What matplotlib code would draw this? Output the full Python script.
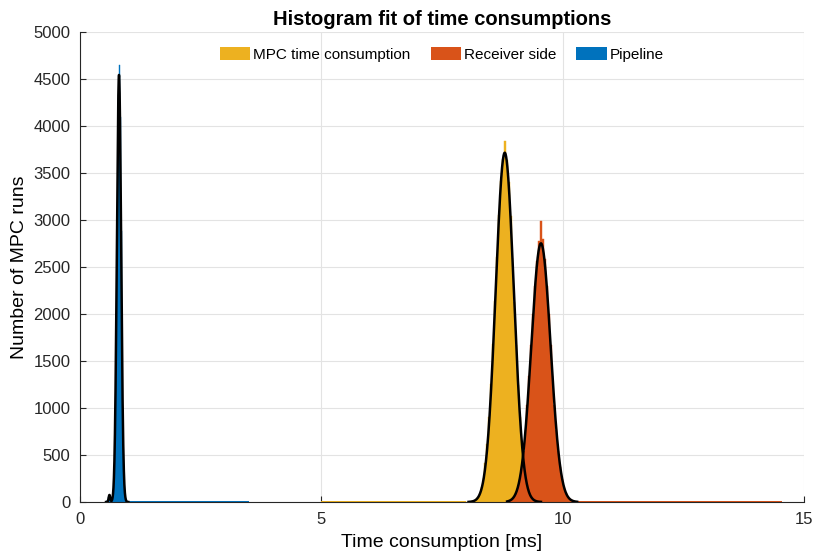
import numpy as np
import matplotlib
matplotlib.use("Agg")
import matplotlib.pyplot as plt
from matplotlib.patches import Patch

plt.rcParams['font.family'] = ['Liberation Sans', 'DejaVu Sans']

# ---- histogram data (bin centres, widths, counts) ----
# MPC time consumption
mpc_centers = [round(8.00 + 0.04 * i, 2) for i in range(36)]
mpc_counts = [1, 1, 3, 6, 14, 26, 50, 90, 155, 258, 410, 620, 905, 1260, 1680,
              2140, 2610, 3050, 3410, 3650, 3840, 3640, 3400, 3040, 2600, 2130,
              1670, 1250, 900, 615, 405, 255, 150, 88, 48, 25]
mpc_width = 0.04
mpc_tail_centers = [5.125, 5.375, 5.625, 5.875, 6.125, 6.375, 6.625, 6.875,
                    7.125, 7.375, 7.625, 7.875, 9.625, 9.875, 10.125, 10.375,
                    10.625, 10.875, 11.125, 11.375, 11.625, 11.875, 12.125, 12.375]
mpc_tail_counts = [8, 8, 8, 8, 8, 8, 9, 9, 9, 9, 10, 10,
                   10, 10, 10, 9, 9, 9, 9, 8, 8, 8, 8, 8]
mpc_tail_width = 0.25

# Receiver side
rcv_centers = [round(8.83 + 0.04 * i, 2) for i in range(37)]
rcv_counts = [4, 9, 17, 31, 54, 94, 154, 245, 372, 545, 765, 1030, 1340, 1670,
              2000, 2300, 2560, 2780, 2990, 2800, 2590, 2300, 2000, 1670, 1340,
              1030, 765, 545, 372, 245, 154, 94, 54, 31, 17, 9, 4]
rcv_width = 0.04
rcv_tail_centers = [10.425, 10.675, 10.925, 11.175, 11.425, 11.675, 11.925,
                    12.175, 12.425, 12.675, 12.925, 13.175, 13.425, 13.675,
                    13.925, 14.175, 14.425]
rcv_tail_counts = [10, 9, 9, 8, 8, 8, 8, 8, 8, 9, 9, 9, 9, 9, 9, 9, 8]
rcv_tail_width = 0.25

# Pipeline
pip_centers = [round(0.55 + 0.02 * i, 2) for i in range(21)]
pip_counts = [6, 20, 55, 62, 28, 10, 33, 124, 380, 944, 1906, 3129, 4300, 4645,
              4100, 2880, 1683, 800, 309, 97, 25]
pip_width = 0.02
pip_tail_centers = [1.125, 1.375, 1.625, 1.875, 2.125, 2.375, 2.625, 2.875,
                    3.125, 3.375]
pip_tail_counts = [12, 10, 9, 9, 9, 8, 8, 8, 8, 8]
pip_tail_width = 0.25

# ---- fitted normal curves: (mean, std, peak) ----
mpc_fit = (8.80, 0.188, 3716)
rcv_fit = (9.55, 0.200, 2752)
pip_fit = (0.808, 0.044, 4543)
pip_fit_minor = (0.610, 0.016, 75)

labels = ['MPC time consumption', 'Receiver side', 'Pipeline']
colors = ['#EDB120', '#D95319', '#0072BD']

fig = plt.figure(figsize=(8.14, 5.54), dpi=100)
ax = fig.add_axes([80 / 814, 1 - 502 / 554, 724 / 814, 470 / 554])

series = [
    (mpc_centers, mpc_counts, mpc_width, mpc_tail_centers, mpc_tail_counts, mpc_tail_width),
    (rcv_centers, rcv_counts, rcv_width, rcv_tail_centers, rcv_tail_counts, rcv_tail_width),
    (pip_centers, pip_counts, pip_width, pip_tail_centers, pip_tail_counts, pip_tail_width),
]
for (c, n, w, tc, tn, tw), col in zip(series, colors):
    ax.bar(tc, tn, width=tw, color=col, edgecolor='none', linewidth=0, zorder=2)
    ax.bar(c, n, width=w, color=col, edgecolor=col, linewidth=0.3, zorder=2)


def normal(x, mu, sd, peak):
    return peak * np.exp(-0.5 * ((x - mu) / sd) ** 2)


x = np.linspace(8.05, 9.55, 400)
ax.plot(x, normal(x, *mpc_fit), color='black', lw=1.8, zorder=4)
x = np.linspace(8.85, 10.3, 400)
ax.plot(x, normal(x, *rcv_fit), color='black', lw=1.8, zorder=4)
x = np.linspace(0.54, 1.0, 600)
ax.plot(x, normal(x, *pip_fit) + normal(x, *pip_fit_minor), color='black', lw=1.8, zorder=4)

ax.set_xlim(0, 15)
ax.set_ylim(0, 5000)
ax.set_xticks([0, 5, 10, 15])
ax.set_yticks(np.arange(0, 5001, 500))
ax.grid(True, color='#e3e3e3', lw=0.8, zorder=0)
ax.set_axisbelow(True)
for s in ['top', 'right']:
    ax.spines[s].set_visible(False)
for s in ['left', 'bottom']:
    ax.spines[s].set_color('#262626')
    ax.spines[s].set_linewidth(0.8)
ax.tick_params(direction='in', length=4, width=0.8, colors='#262626',
               labelsize=12)
ax.tick_params(axis='y', pad=7)
ax.tick_params(axis='x', pad=7)

ax.set_title('Histogram fit of time consumptions', fontsize=14.5,
             fontweight='bold', pad=5)
ax.set_xlabel('Time consumption [ms]', fontsize=14, labelpad=5)
ax.set_ylabel('Number of MPC runs', fontsize=14, labelpad=4)

handles = [Patch(facecolor=c, edgecolor='none') for c in colors]
ax.legend(handles, labels, loc='upper center', bbox_to_anchor=(0.5, 1.0),
          ncol=3, frameon=False, fontsize=11, handlelength=2.0,
          handleheight=0.9, handletextpad=0.2, columnspacing=1.3,
          borderaxespad=0.6)

fig.savefig('out.png', dpi=100)
